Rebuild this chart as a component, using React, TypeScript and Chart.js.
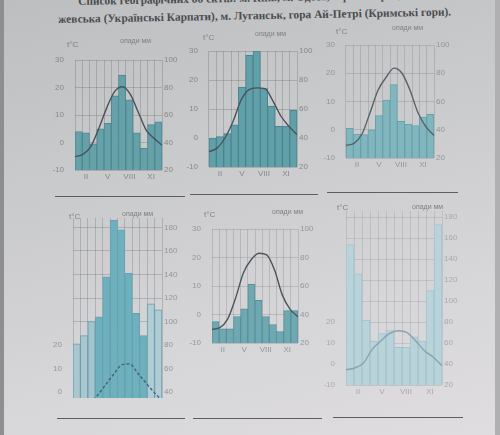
import React, { useEffect, useRef } from 'react';
import { Chart, registerables } from 'chart.js';
Chart.register(...registerables);

const months = ['I', 'II', 'III', 'IV', 'V', 'VI', 'VII', 'VIII', 'IX', 'X', 'XI', 'XII'];
const shownMonths = ['II', 'V', 'VIII', 'XI'];

const precip1 = [48, 47, 39, 50, 54, 74, 89, 71, 47, 36, 53, 55];
const temp1 = [-5.2, -4.3, -1.5, 5, 12.5, 18.5, 20.3, 17.5, 11, 4.5, 1.5, -1];

const precip2 = [40, 41, 43, 49, 75, 97, 100, 74, 62, 48, 48, 59];
const temp2 = [-4.7, -3.5, 0, 5.7, 13, 16.7, 17.3, 17, 12.7, 7.5, 4, 1.2];

const precip3 = [41, 37, 36.5, 40, 50, 61, 72, 46, 44, 43, 49, 51];
const temp3 = [-5.5, -4.8, -1.5, 6, 14, 18.5, 21.8, 20, 14, 6, 1, -2];

const precip4 = [81, 88, 100, 104, 138, 186, 178, 141, 107, 88, 115, 110];
const temp4 = [-9, -8, -5, -1.5, 3, 7.5, 11.5, 12, 8, 4, 0, -3.5];

const precip5 = [35, 30, 30, 38.6, 44, 61.4, 50, 38.6, 33, 28, 42.7, 42.7];
const temp5 = [-5.2, -4.6, -1.6, 5.6, 14.5, 19.2, 21.5, 20.9, 15.6, 6.8, 1.8, -0.8];

const precip6 = [154, 126, 82, 62, 69, 72, 56, 56, 66, 62, 110, 173];
const temp6 = [-2.7, -1.9, 0.5, 7, 11, 14.6, 15.9, 15, 11, 6.3, 3.2, -0.8];

const tempTicksA = [-10, 0, 10, 20, 30];
const precipTicksA = [20, 40, 60, 80, 100];
const tempTicksB = [0, 10, 20];
const precipTicksB = [40, 60, 80, 100, 120, 140, 160, 180];
const tempTicksC = [-10, 0, 10, 20];
const precipTicksC = [20, 40, 60, 80, 100, 120, 140, 160, 180];

const TICK_FONT = { family: 'Liberation Sans', size: 8 };

type Cfg = {
  l: number; r: number; t: number; b: number;
  tMin: number; tMax: number;
  precip: number[]; temp: number[];
  tTicks: number[]; pTicks: number[];
  barColor: string | string[]; barBorder: string;
  lineColor: string; lineDash?: number[];
  tickColor: string; gridColor: string; showX: boolean;
};

const AXW = 30;
const PADT = 10;
const XH = 14;

function ClimateChart({ cfg }: { cfg: Cfg }) {
  const ref = useRef<HTMLCanvasElement>(null);
  const w = cfg.r - cfg.l + AXW * 2;
  const h = cfg.b - cfg.t + PADT + XH;
  useEffect(() => {
    if (!ref.current) return;
    const pMin = 40 + 2 * cfg.tMin;
    const pMax = 40 + 2 * cfg.tMax;
    const chart = new Chart(ref.current, {
      type: 'bar',
      data: {
        labels: months,
        datasets: [
          {
            type: 'line',
            data: cfg.temp,
            xAxisID: 'x2',
            yAxisID: 'yT',
            borderColor: cfg.lineColor,
            borderWidth: 1.4,
            borderDash: cfg.lineDash || [],
            pointRadius: 0,
            tension: 0.4,
            cubicInterpolationMode: 'monotone',
            fill: false,
            order: 0,
          } as any,
          {
            type: 'bar',
            data: cfg.precip,
            xAxisID: 'x',
            yAxisID: 'yP',
            backgroundColor: cfg.barColor,
            borderColor: cfg.barBorder,
            borderWidth: 1,
            barPercentage: 1,
            categoryPercentage: 1,
            grouped: false,
            order: 1,
          } as any,
        ],
      },
      options: {
        animation: false,
        responsive: false,
        maintainAspectRatio: false,
        datasets: { bar: { barPercentage: 1, categoryPercentage: 1 } },
        layout: { padding: { top: PADT, left: 0, right: 0, bottom: 0 } },
        plugins: { legend: { display: false }, tooltip: { enabled: false } },
        scales: {
          x: {
            type: 'category',
            position: 'bottom',
            offset: true,
            z: 1,
            grid: { offset: true, color: cfg.gridColor, drawTicks: false },
            border: { display: false },
            ticks: {
              display: cfg.showX,
              autoSkip: false,
              maxRotation: 0,
              padding: 2,
              font: TICK_FONT,
              color: cfg.tickColor,
              callback: (_v: any, i: number) => (shownMonths.includes(months[i]) ? months[i] : ''),
            },
            afterFit: (s: any) => { s.height = XH; },
          },
          x2: { type: 'category', labels: months, display: false, offset: false },
          yT: {
            type: 'linear',
            position: 'left',
            min: cfg.tMin,
            max: cfg.tMax,
            grid: { display: false },
            border: { display: false },
            ticks: { font: TICK_FONT, color: cfg.tickColor, padding: 3 },
            afterBuildTicks: (s: any) => { s.ticks = cfg.tTicks.map((v) => ({ value: v })); },
            afterFit: (s: any) => { s.width = AXW; },
          },
          yP: {
            type: 'linear',
            position: 'right',
            min: pMin,
            max: pMax,
            z: 1,
            grid: { color: cfg.gridColor, drawTicks: false },
            border: { display: false },
            ticks: { font: TICK_FONT, color: cfg.tickColor, padding: 2 },
            afterBuildTicks: (s: any) => { s.ticks = cfg.pTicks.map((v) => ({ value: v })); },
            afterFit: (s: any) => { s.width = AXW; },
          },
        } as any,
      },
    });
    return () => chart.destroy();
  }, []);
  return (
    <canvas
      ref={ref}
      width={w}
      height={h}
      style={{ position: 'absolute', left: cfg.l - AXW, top: cfg.t - PADT, width: w, height: h }}
    />
  );
}

const charts: Cfg[] = [
  {
    l: 75, r: 162, t: 60, b: 170, tMin: -10, tMax: 30, precip: precip1, temp: temp1,
    tTicks: tempTicksA, pTicks: precipTicksA, barColor: '#66a1aa', barBorder: '#4d8891',
    lineColor: '#4a5258', tickColor: '#858789', gridColor: 'rgba(110,115,118,0.35)', showX: true,
  },
  {
    l: 209, r: 297, t: 51, b: 167, tMin: -10, tMax: 30, precip: precip2, temp: temp2,
    tTicks: tempTicksA, pTicks: precipTicksA, barColor: '#62a0a9', barBorder: '#48858f',
    lineColor: '#4a5258', tickColor: '#858789', gridColor: 'rgba(110,115,118,0.35)', showX: true,
  },
  {
    l: 346, r: 434, t: 45, b: 158, tMin: -10, tMax: 30, precip: precip3, temp: temp3,
    tTicks: tempTicksA, pTicks: precipTicksA, barColor: '#82b6bf', barBorder: '#6aa0aa',
    lineColor: '#5a6166', tickColor: '#939597', gridColor: 'rgba(120,125,128,0.3)', showX: true,
  },
  {
    l: 73, r: 162, t: 218, b: 398, tMin: -2.5, tMax: 74, precip: precip4, temp: temp4,
    tTicks: tempTicksB, pTicks: precipTicksB,
    barColor: ['#aac6cf', '#aac6cf', '#a2c4cf', '#6db1bf', '#6db1bf', '#6db1bf', '#6db1bf', '#6db1bf', '#6db1bf', '#6db1bf', '#b0ccd4', '#b0ccd4'],
    barBorder: '#6a9fab', lineColor: '#46617a', lineDash: [3, 2], tickColor: '#949698',
    gridColor: 'rgba(110,120,125,0.35)', showX: false,
  },
  {
    l: 212, r: 298, t: 229, b: 343, tMin: -10, tMax: 30, precip: precip5, temp: temp5,
    tTicks: tempTicksA, pTicks: precipTicksA, barColor: '#70a8b2', barBorder: '#57909a',
    lineColor: '#4f565b', tickColor: '#949698', gridColor: 'rgba(120,125,128,0.3)', showX: true,
  },
  {
    l: 346, r: 442, t: 211, b: 385, tMin: -10, tMax: 73, precip: precip6, temp: temp6,
    tTicks: tempTicksC, pTicks: precipTicksC, barColor: '#bad3da', barBorder: '#a3c3cb',
    lineColor: '#8ba2ae', tickColor: '#a8aaad', gridColor: 'rgba(140,150,155,0.3)', showX: true,
  },
];

const unitLabels = [
  { t: [67, 40], p: [120, 37] },
  { t: [203, 33], p: [255, 30] },
  { t: [336, 27], p: [392, 24] },
  { t: [69, 212], p: [122, 210] },
  { t: [204, 210], p: [272, 208] },
  { t: [337, 203], p: [412, 203] },
];

const answerLines = [
  [55, 196, 130], [190, 194, 128], [327, 192, 131],
  [57, 418, 128], [193, 418, 129], [333, 417, 130],
];

export default function App() {
  const small: React.CSSProperties = {
    position: 'absolute', fontFamily: 'Liberation Sans', fontSize: 8, color: '#7e8082', whiteSpace: 'nowrap',
  };
  return (
    <div
      style={{
        position: 'fixed', left: 0, top: 0, width: 500, height: 435, overflow: 'hidden',
        background: 'linear-gradient(165deg, #bdbec0 0%, #c9cacc 35%, #d6d5d8 70%, #dfdde0 100%)',
      }}
    >
      <div style={{ position: 'absolute', left: 0, top: 0, width: 4, height: 435, background: '#8d8e90' }} />
      <div style={{ position: 'absolute', left: 495, top: 0, width: 5, height: 435, background: '#b0b0b3' }} />
      <div
        style={{
          position: 'absolute', left: 78, top: -5, fontFamily: 'Liberation Serif', fontWeight: 'bold',
          fontSize: 11.4, color: '#4a4c4f', whiteSpace: 'nowrap', transform: 'rotate(-1.1deg)', transformOrigin: 'left top',
        }}
      >
        Список географічних об'єктів: м. Київ, м. Одеса, гора Говерла, полонина Бор-
      </div>
      <div
        style={{
          position: 'absolute', left: 58, top: 13, fontFamily: 'Liberation Serif', fontWeight: 'bold',
          fontSize: 11.4, color: '#4a4c4f', whiteSpace: 'nowrap', transform: 'rotate(-1.1deg)', transformOrigin: 'left top',
        }}
      >
        жевська (Українські Карпати), м. Луганськ, гора Ай-Петрі (Кримські гори).
      </div>
      {charts.map((c, i) => (
        <ClimateChart key={i} cfg={c} />
      ))}
      {unitLabels.map((u, i) => (
        <React.Fragment key={i}>
          <div style={{ ...small, left: u.t[0], top: u.t[1] }}>t°C</div>
          <div style={{ ...small, left: u.p[0], top: u.p[1], fontSize: 7 }}>опади мм</div>
        </React.Fragment>
      ))}
      {answerLines.map((a, i) => (
        <div key={i} style={{ position: 'absolute', left: a[0], top: a[1], width: a[2], height: 0, borderTop: '1px solid #5c5e60' }} />
      ))}
    </div>
  );
}
